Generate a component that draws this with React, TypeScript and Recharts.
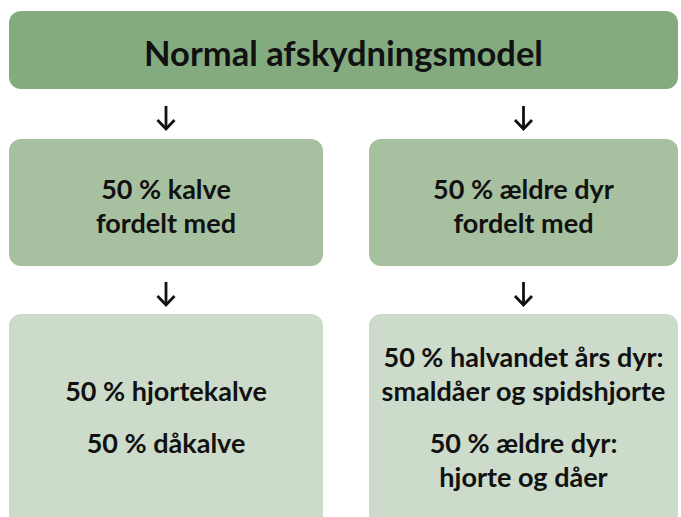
import { ComposedChart, XAxis, YAxis, ReferenceArea, ReferenceDot } from "recharts";

// box texts, one array per level of the diagram
const titleLines = [["Normal afskydningsmodel"]];
const middleLines = [
  ["50 % kalve", "fordelt med"],
  ["50 % ældre dyr", "fordelt med"],
];
const bottomGroups = [
  [["50 % hjortekalve"], ["50 % dåkalve"]],
  [
    ["50 % halvandet års dyr:", "smaldåer og spidshjorte"],
    ["50 % ældre dyr:", "hjorte og dåer"],
  ],
];

const W = 681;
const H = 517;
const FONT = "Lato, 'Noto Sans', sans-serif";

const COLS = [
  { x1: 9, x2: 323 },
  { x1: 369, x2: 678 },
];
const ROWS = {
  title: { y1: 11, y2: 89 },
  middle: { y1: 139, y2: 266 },
  bottom: { y1: 314, y2: 530 },
};
const ARROW_Y = [118, 294];

function boxShape(fill: string, groups: string[][], fontSize: number, lineH: number, groupGap: number, centerY?: number) {
  return (props: any) => {
    const { x, y, width, height } = props;
    const cx = x + width / 2;
    const n = groups.reduce((s, g) => s + g.length, 0);
    const total = (n - 1) * lineH + (groups.length - 1) * groupGap;
    const mid = centerY !== undefined ? centerY : y + height / 2;
    let cur = mid - total / 2;
    const texts: any[] = [];
    groups.forEach((g, gi) => {
      g.forEach((line, li) => {
        texts.push(
          <text
            key={`${gi}-${li}`}
            x={cx}
            y={cur}
            textAnchor="middle"
            dominantBaseline="central"
            fontFamily={FONT}
            fontWeight={700}
            fontSize={fontSize}
            fill="#111"
          >
            {line}
          </text>
        );
        if (li < g.length - 1) cur += lineH;
      });
      cur += lineH + groupGap;
    });
    return (
      <g>
        <rect x={x} y={y} width={width} height={height} rx={12} ry={12} fill={fill} />
        {texts}
      </g>
    );
  };
}

const arrowShape = (props: any) => {
  const { cx, cy } = props;
  return (
    <g stroke="#111" strokeWidth={2.8} fill="none" strokeLinecap="butt">
      <line x1={cx} y1={cy - 12} x2={cx} y2={cy + 11} />
      <polyline points={`${cx - 8.5},${cy + 2} ${cx},${cy + 11} ${cx + 8.5},${cy + 2}`} />
    </g>
  );
};

export default function App() {
  return (
    <div style={{ position: "absolute", left: 0, top: 0, width: W, height: H, background: "#fff" }}>
      <ComposedChart width={W} height={H} data={[]} margin={{ top: 0, right: 0, bottom: 0, left: 0 }}>
        <XAxis type="number" dataKey="x" domain={[0, W]} allowDataOverflow hide />
        <YAxis type="number" dataKey="y" domain={[0, H]} reversed allowDataOverflow hide />
        <ReferenceArea
          x1={COLS[0].x1}
          x2={COLS[1].x2}
          y1={ROWS.title.y1}
          y2={ROWS.title.y2}
          ifOverflow="visible"
          shape={boxShape("#84ab80", titleLines, 34.5, 34, 0, 52)}
        />
        {middleLines.map((lines, i) => (
          <ReferenceArea
            key={`m${i}`}
            x1={COLS[i].x1}
            x2={COLS[i].x2}
            y1={ROWS.middle.y1}
            y2={ROWS.middle.y2}
            ifOverflow="visible"
            shape={boxShape("#a7c1a0", [lines], 27, 34, 0, 205)}
          />
        ))}
        {bottomGroups.map((groups, i) => (
          <ReferenceArea
            key={`b${i}`}
            x1={COLS[i].x1}
            x2={COLS[i].x2}
            y1={ROWS.bottom.y1}
            y2={ROWS.bottom.y2}
            ifOverflow="hidden"
            shape={boxShape("#cddcca", groups, 27, 34, 18, 416)}
          />
        ))}
        {ARROW_Y.flatMap((ay) =>
          COLS.map((c, i) => (
            <ReferenceDot
              key={`a${ay}-${i}`}
              x={(c.x1 + c.x2) / 2}
              y={ay}
              ifOverflow="visible"
              shape={arrowShape}
            />
          ))
        )}
      </ComposedChart>
    </div>
  );
}
